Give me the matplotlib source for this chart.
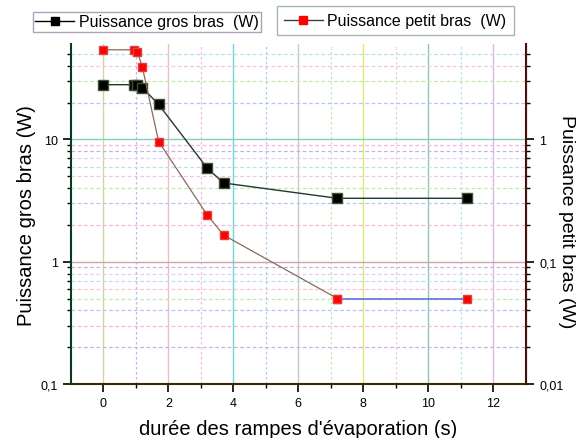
import matplotlib
matplotlib.use("Agg")
import matplotlib.pyplot as plt
from matplotlib.ticker import FixedLocator, FuncFormatter, NullFormatter
import numpy as np

plt.rcParams['font.family'] = ['Liberation Sans', 'DejaVu Sans']

# data
duree = [0, 0.95, 1.05, 1.2, 1.7, 3.2, 3.7, 7.2, 11.2]
gros_bras = [28, 28, 28, 26.5, 19.3, 5.8, 4.4, 3.3, 3.3]
petit_bras = [5.4, 5.4, 5.2, 3.9, 0.96, 0.24, 0.165, 0.05, 0.05]

x_major = [0, 2, 4, 6, 8, 10, 12]
x_minor = [1, 3, 5, 7, 9, 11]
vcolors = ['#d8d49c', '#e2c4c8', '#6fd6d6', '#c8c8c8', '#e4e86a', '#8cc8b4', '#d8b8e0']
mcolors = ['#c8b0e8', '#f0b8e0', '#b0c8f0', '#c0e8b0', '#f0c8d8', '#b8e0f0', '#e0d0f0']


def comma_fmt(v, pos):
    s = ('%g' % v)
    return s.replace('.', ',')


fig = plt.figure(figsize=(5.76, 4.39), dpi=100)
ax = fig.add_axes([0.123, 0.123, 0.79, 0.774])
ax.set_xlim(-1, 13)
ax.set_yscale('log')
ax.set_ylim(0.1, 60)

# Origin-like grid: coloured major verticals, dotted minor ones
for xv, c in zip(x_major, vcolors):
    ax.axvline(xv, color=c, lw=1.0, zorder=0)
for xv, c in zip(x_minor, mcolors):
    ax.axvline(xv, color=c, lw=0.9, ls=(0, (2, 2)), zorder=0)

# horizontal grid
ax.axhline(1, color='#c8a8a8', lw=1.0, zorder=0)
ax.axhline(10, color='#80d0c0', lw=1.0, zorder=0)
minor_y = [m * 10.0 ** e for e in (-1, 0, 1) for m in range(2, 10) if m * 10.0 ** e < 60]
for i, yv in enumerate(minor_y):
    ax.axhline(yv, color=mcolors[i % len(mcolors)], lw=0.9, ls=(0, (3, 2)), zorder=0)

ax.plot(duree, gros_bras, color='#203830', lw=1.0, marker='s', ms=7,
        mfc='black', mec='#405030', zorder=3)

ax2 = ax.twinx()
ax2.set_yscale('log')
ax2.set_ylim(0.01, 6)
ax2.plot(duree[:-1], petit_bras[:-1], color='#8a6a58', lw=0.9, marker='s', ms=5.5,
         mfc='red', mec='#e04040', zorder=3)
ax2.plot(duree[-2:], petit_bras[-2:], color='#6070e0', lw=1.2, marker='s', ms=5.5,
         mfc='red', mec='#e04040', zorder=3)

ax.set_xticks(x_major)
ax.set_xticks(x_minor, minor=True)
ax.yaxis.set_major_locator(FixedLocator([0.1, 1, 10]))
ax.yaxis.set_major_formatter(FuncFormatter(comma_fmt))
ax.yaxis.set_minor_locator(FixedLocator(minor_y))
ax.yaxis.set_minor_formatter(NullFormatter())
ax2.yaxis.set_major_locator(FixedLocator([0.01, 0.1, 1]))
ax2.yaxis.set_major_formatter(FuncFormatter(comma_fmt))
ax2.yaxis.set_minor_locator(FixedLocator([v / 10 for v in minor_y]))
ax2.yaxis.set_minor_formatter(NullFormatter())

for a in (ax, ax2):
    a.spines['top'].set_visible(False)
    a.tick_params(which='major', length=6, width=1.2, labelsize=9)
    a.tick_params(which='minor', length=3, width=1.0)
ax.spines['left'].set_color('#0a3a20')
ax.spines['left'].set_linewidth(1.5)
ax.spines['bottom'].set_color('#3a2a00')
ax.spines['bottom'].set_linewidth(1.5)
ax2.spines['right'].set_color('#4a1010')
ax2.spines['right'].set_linewidth(1.5)
ax2.spines['left'].set_visible(False)
ax2.spines['bottom'].set_visible(False)

ax.set_xlabel("durée des rampes d'évaporation (s)", fontsize=14.5, labelpad=7)
ax.set_ylabel("Puissance gros bras (W)", fontsize=14.5, labelpad=3)
fig.text(566 / 576, 1 - 222 / 439, "Puissance petit bras (W)", fontsize=14,
         rotation=270, ha='center', va='center')

# two separate legend boxes above the plot, as in Origin
h1, = ax.plot([], [], color='black', lw=1.0, marker='s', ms=6, mfc='black', mec='black')
h2, = ax.plot([], [], color='#404040', lw=1.0, marker='s', ms=6, mfc='red', mec='red')
leg1 = fig.legend([h1], ['Puissance gros bras  (W)'], loc='upper left',
                  bbox_to_anchor=(33 / 576, 1 - 13 / 439), borderaxespad=0,
                  fontsize=11.5, fancybox=False, handlelength=2.4,
                  handletextpad=0.3, borderpad=0.15, framealpha=1)
leg1.get_frame().set_edgecolor('#b0a0b8')
leg2 = fig.legend([h2], ['Puissance petit bras  (W)'], loc='upper left',
                  bbox_to_anchor=(277 / 576, 1 - 7 / 439), borderaxespad=0,
                  fontsize=11.5, fancybox=False, handlelength=2.4,
                  handletextpad=0.3, borderpad=0.45, framealpha=1)
leg2.get_frame().set_edgecolor('#a8b8a8')

fig.savefig('out.png', dpi=100)
